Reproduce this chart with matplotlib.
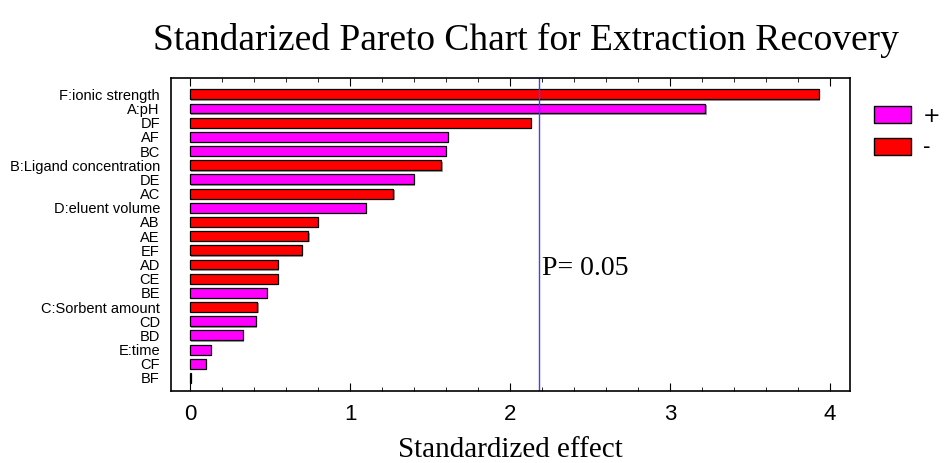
import numpy as np
import matplotlib.pyplot as plt
import matplotlib.patheffects as pe
from matplotlib.patches import Patch
from matplotlib.ticker import MultipleLocator

# effects, top to bottom
labels = ['F:ionic strength', 'A:pH', 'DF', 'AF', 'BC', 'B:Ligand concentration',
          'DE', 'AC', 'D:eluent volume', 'AB', 'AE', 'EF', 'AD', 'CE', 'BE',
          'C:Sorbent amount', 'CD', 'BD', 'E:time', 'CF', 'BF']
effects = [3.93, 3.22, 2.13, 1.61, 1.60, 1.57, 1.40, 1.27, 1.10, 0.80, 0.74,
           0.70, 0.55, 0.55, 0.48, 0.42, 0.41, 0.33, 0.13, 0.10, 0.003]
signs = ['-', '+', '-', '+', '+', '-', '+', '-', '+', '-', '-',
         '-', '-', '-', '+', '-', '+', '+', '+', '+', '+']
p_line = 2.179

colors = ['#ff00ff' if s == '+' else '#ff0000' for s in signs]

fig = plt.figure(figsize=(9.45, 4.63), dpi=100)
ax = fig.add_axes([171/945, 1-391/463, (850-171)/945, (391-78)/463])

y = np.arange(len(labels))
ax.barh(y, effects, height=0.7, color=colors, edgecolor='black', linewidth=0.9,
        path_effects=[pe.SimplePatchShadow(offset=(1, -1), shadow_rgbFace='#888888', alpha=0.8),
                      pe.Normal()])
ax.axvline(p_line, color='#4040ff', lw=1)
ax.text(p_line + 0.02, 12.3, 'P= 0.05', family='Liberation Serif', fontsize=20, va='center')

ax.set_ylim(len(labels) - 1 + 0.92, -1.15)
ax.set_xlim(-0.119, 4.125)
ax.set_yticks(y)
ax.set_yticklabels(labels, family='Liberation Sans', fontsize=10.5)
ax.tick_params(axis='y', length=0, pad=8)
ax.xaxis.set_major_locator(MultipleLocator(1))
ax.xaxis.set_minor_locator(MultipleLocator(0.2))
ax.tick_params(axis='x', which='both', direction='in', top=True, labelsize=16, pad=9)
ax.tick_params(axis='x', which='major', length=6)
ax.tick_params(axis='x', which='minor', length=3)
for t in ax.get_xticklabels():
    t.set_family('Liberation Sans')
for s in ax.spines.values():
    s.set_linewidth(1.2)

fig.text(510/945, 1 - 450/463, 'Standardized effect', family='Liberation Serif',
         fontsize=21, ha='center', va='center')
fig.text(0.557, 1 - 40/463, 'Standarized Pareto Chart for Extraction Recovery',
         family='Liberation Serif', fontsize=27, ha='center', va='center')

handles = [Patch(facecolor='#ff00ff', edgecolor='black', label='+'),
           Patch(facecolor='#ff0000', edgecolor='black', label='-')]
fig.legend(handles=handles, loc='upper left', bbox_to_anchor=(874/945, 1 - 106/463),
           frameon=False, fontsize=15, handlelength=1.8, handleheight=0.85,
           handletextpad=0.55, labelspacing=0.55, borderaxespad=0, borderpad=0)

plt.savefig('out.png', dpi=100)
